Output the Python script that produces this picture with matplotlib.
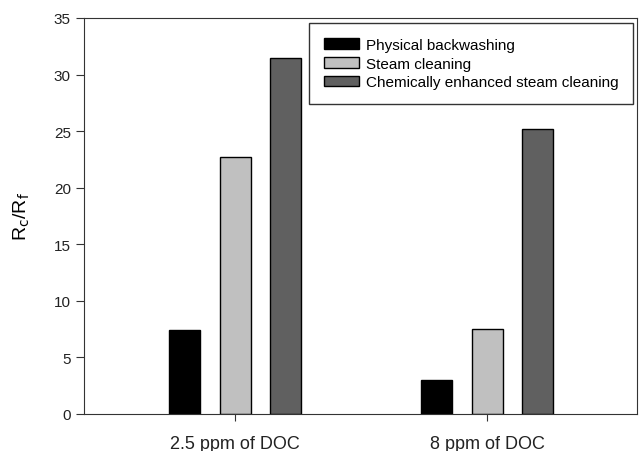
import numpy as np
import matplotlib
matplotlib.use("Agg")
import matplotlib.pyplot as plt

plt.rcParams['font.family'] = ['Liberation Sans', 'DejaVu Sans']

groups = ["2.5 ppm of DOC", "8 ppm of DOC"]
methods = ["Physical backwashing", "Steam cleaning", "Chemically enhanced steam cleaning"]
backwash = [7.4, 3.0]
steam = [22.7, 7.5]
chem_steam = [31.5, 25.2]
colors = ["#000000", "#c0c0c0", "#606060"]

fig = plt.figure(figsize=(6.39, 4.52), dpi=100)
ax = fig.add_axes([0.1315, 0.0819, 0.8654, 0.8761])

x = np.arange(len(groups))
w = 0.123
pitch = 0.2
for i, (vals, lab) in enumerate(zip([backwash, steam, chem_steam], methods)):
    ax.bar(x + (i - 1) * pitch, vals, w, color=colors[i], edgecolor="black",
           linewidth=1, label=lab)

ax.set_xlim(-0.6, 1.595)
ax.set_ylim(0, 35)
ax.set_yticks(range(0, 36, 5))
ax.set_xticks(x)
ax.set_xticklabels(groups, fontsize=13)
ax.tick_params(axis='y', labelsize=11, length=6, direction='out', colors='#333333', labelcolor='#222222')
ax.tick_params(axis='x', length=5, direction='out', colors='#333333', labelcolor='#222222', pad=10)
for s in ax.spines.values():
    s.set_color('#333333')
ax.set_ylabel(r"R$_\mathrm{c}$/R$_\mathrm{f}$", fontsize=14, labelpad=16)

leg = ax.legend(loc='upper right', bbox_to_anchor=(0.993, 0.987), fontsize=11,
                fancybox=False, edgecolor='#333333', framealpha=1,
                handlelength=2.3, handleheight=0.7, labelspacing=0.32,
                borderpad=0.95, handletextpad=0.45, borderaxespad=0)
leg.get_frame().set_linewidth(1)

fig.savefig("out.png", dpi=100)
